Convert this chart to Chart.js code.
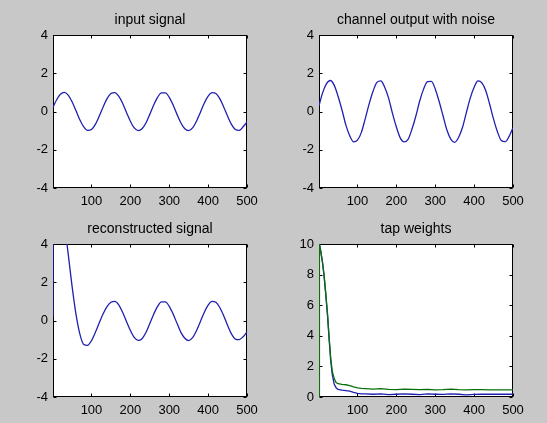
<!DOCTYPE html>
<html>
<head>
<meta charset="utf-8">
<script src="https://cdn.jsdelivr.net/npm/chart.js@4"></script>
<style>
    html, body { margin: 0; padding: 0; }
    body { width: 547px; height: 423px; background: #c8c8c8; position: relative; overflow: hidden; }
    canvas { position: absolute; }
</style>
</head>
<body>
<canvas id="inputChart"></canvas>
<canvas id="channelChart"></canvas>
<canvas id="reconChart"></canvas>
<canvas id="tapChart"></canvas>
<script>
// Sample positions (every 10 samples)
const sampleX = [1, 10, 20, 30, 40, 50, 60, 70, 80, 90, 100, 110, 120, 130, 140, 150, 160, 170, 180, 190, 200,
    210, 220, 230, 240, 250, 260, 270, 280, 290, 300, 310, 320, 330, 340, 350, 360, 370, 380, 390, 400,
    410, 420, 430, 440, 450, 460, 470, 480, 490, 500];

const inputSignal = [0.22, 0.60, 0.90, 1.00, 0.86, 0.51, 0.05, -0.43, -0.80, -0.99, -0.94, -0.67, -0.24, 0.24, 0.67, 0.94, 0.99, 0.80, 0.43, -0.05,
    -0.51, -0.86, -1.00, -0.90, -0.60, -0.15, 0.34, 0.74, 0.97, 0.97, 0.74, 0.34, -0.15, -0.60, -0.90, -1.00, -0.86, -0.51, -0.05, 0.43, 0.80,
    0.99, 0.94, 0.67, 0.24, -0.24, -0.67, -0.94, -0.99, -0.80, -0.55];

const channelOutput = [0.30, 0.96, 1.44, 1.62, 1.38, 0.80, 0.09, -0.70, -1.27, -1.59, -1.50, -1.09, -0.37, 0.40, 1.06, 1.52, 1.60, 1.27, 0.70, -0.10,
    -0.81, -1.38, -1.59, -1.46, -0.93, -0.25, 0.55, 1.17, 1.56, 1.58, 1.18, 0.52, -0.22, -0.97, -1.44, -1.61, -1.36, -0.84, -0.06, 0.70, 1.27,
    1.60, 1.50, 1.09, 0.38, -0.40, -1.06, -1.52, -1.58, -1.30, -0.85];

// Reconstructed signal starts off scale, so it has an extra point at x = 2
const reconX = [1, 2, 10, 20, 30, 40, 50, 60, 70, 80, 90, 100, 110, 120, 130, 140, 150, 160, 170, 180, 190, 200,
    210, 220, 230, 240, 250, 260, 270, 280, 290, 300, 310, 320, 330, 340, 350, 360, 370, 380, 390, 400,
    410, 420, 430, 440, 450, 460, 470, 480, 490, 500];

const reconSignal = [0.2, 15, 10, 7.2, 5.2, 3.5, 1.8, 0.35, -0.7, -1.25, -1.3, -1.05, -0.62, -0.12, 0.35, 0.72, 0.95, 1.0, 0.82, 0.43, -0.05, -0.52,
    -0.88, -1.04, -0.95, -0.63, -0.16, 0.33, 0.74, 0.97, 0.97, 0.74, 0.34, -0.15, -0.62, -0.93, -1.05, -0.9, -0.54, -0.06, 0.42, 0.8,
    1.0, 0.95, 0.68, 0.25, -0.25, -0.7, -0.97, -1.0, -0.85, -0.6];

// Tap weights (denser at the start where they fall fast)
const tapX = [1, 2, 5, 10, 14, 18, 23, 27, 31, 35, 40, 45, 50, 60, 70, 80, 90, 100, 110, 120, 140, 160, 180, 200,
    220, 240, 260, 280, 300, 320, 340, 360, 380, 400, 420, 440, 460, 480, 500];
const tapWeight1 = [0, 10, 9.6, 8.8, 7.9, 6.8, 5.3, 3.8, 2.4, 1.5, 0.85, 0.6, 0.5, 0.45, 0.42, 0.38, 0.3, 0.24, 0.2, 0.2, 0.18, 0.2, 0.15, 0.18,
    0.2, 0.18, 0.15, 0.2, 0.18, 0.17, 0.2, 0.18, 0.14, 0.17, 0.18, 0.18, 0.18, 0.18, 0.18];
const tapWeight2 = [0, 10, 9.6, 8.8, 8.0, 6.9, 5.4, 3.9, 2.6, 1.7, 1.2, 0.95, 0.87, 0.82, 0.8, 0.74, 0.66, 0.6, 0.56, 0.55, 0.52, 0.55, 0.5, 0.48,
    0.52, 0.5, 0.48, 0.5, 0.47, 0.48, 0.52, 0.48, 0.47, 0.48, 0.48, 0.47, 0.47, 0.47, 0.47];

const xTicks = [100, 200, 300, 400, 500];
const signalTicks = [-4, -2, 0, 2, 4];
const tapTicks = [0, 2, 4, 6, 8, 10];

const BLUE = '#1f1fb0';
const GREEN = '#087008';

// Margins around each plot area inside its canvas
const PAD_LEFT = 50, PAD_RIGHT = 30, PAD_TOP = 25, PAD_BOTTOM = 25;

document.addEventListener('DOMContentLoaded', function() {
    Chart.defaults.font.family = "'Liberation Sans', Arial, sans-serif";
    Chart.defaults.color = '#000';

    renderSubplot('inputChart', { left: 53, top: 35, width: 194, height: 153 }, 'input signal',
        [makeSeries(sampleX, inputSignal, BLUE, true)], -4, 4, signalTicks);
    renderSubplot('channelChart', { left: 319, top: 35, width: 194, height: 153 }, 'channel output with noise',
        [makeSeries(sampleX, channelOutput, BLUE, true)], -4, 4, signalTicks);
    renderSubplot('reconChart', { left: 53, top: 244, width: 194, height: 153 }, 'reconstructed signal',
        [makeSeries(reconX, reconSignal, BLUE, true)], -4, 4, signalTicks);
    // green drawn on top of blue, like the second column in the original plot
    renderSubplot('tapChart', { left: 319, top: 244, width: 194, height: 153 }, 'tap weights',
        [makeSeries(tapX, tapWeight2, GREEN, false), makeSeries(tapX, tapWeight1, BLUE, false)], 0, 10, tapTicks);
});

// Build one line dataset from x / y arrays
function makeSeries(xs, ys, color, smooth) {
    return {
        data: xs.map((x, i) => ({ x: x, y: ys[i] })),
        borderColor: color,
        borderWidth: 1.3,
        pointRadius: 0,
        fill: false,
        cubicInterpolationMode: smooth ? 'monotone' : 'default',
        tension: 0
    };
}

// White plot area, black box, inward ticks on all four sides and the title
// (drawn before the lines, so the lines sit on top of the box)
const axesBoxPlugin = {
    id: 'axesBox',
    beforeDatasetsDraw(chart, args, opts) {
        const a = chart.chartArea;
        const ctx = chart.ctx;
        ctx.save();
        ctx.fillStyle = '#ffffff';
        ctx.fillRect(a.left, a.top, a.right - a.left, a.bottom - a.top);

        const L = Math.round(a.left) + 0.5, R = Math.round(a.right) - 0.5;
        const T = Math.round(a.top) + 0.5, B = Math.round(a.bottom) - 0.5;
        ctx.strokeStyle = '#000';
        ctx.lineWidth = 1;
        ctx.strokeRect(L, T, R - L, B - T);
        ctx.beginPath();
        chart.scales.x.ticks.forEach(t => {
            const px = Math.round(chart.scales.x.getPixelForValue(t.value)) + 0.5;
            ctx.moveTo(px, B); ctx.lineTo(px, B - 3);
            ctx.moveTo(px, T); ctx.lineTo(px, T + 3);
        });
        chart.scales.y.ticks.forEach(t => {
            const py = Math.round(chart.scales.y.getPixelForValue(t.value)) + 0.5;
            ctx.moveTo(L, py); ctx.lineTo(L + 3, py);
            ctx.moveTo(R, py); ctx.lineTo(R - 3, py);
        });
        ctx.stroke();

        // title centred over the plot box
        ctx.fillStyle = '#000';
        ctx.font = "14px 'Liberation Sans', Arial, sans-serif";
        ctx.textAlign = 'center';
        ctx.textBaseline = 'alphabetic';
        ctx.fillText(opts.title, (a.left + a.right) / 2, a.top - 11);
        ctx.restore();
    }
};

// Function to render one subplot
function renderSubplot(id, area, title, datasets, yMin, yMax, yTicks) {
    const canvas = document.getElementById(id);
    canvas.width = area.width + PAD_LEFT + PAD_RIGHT;
    canvas.height = area.height + PAD_TOP + PAD_BOTTOM;
    canvas.style.left = (area.left - PAD_LEFT) + 'px';
    canvas.style.top = (area.top - PAD_TOP) + 'px';

    new Chart(canvas.getContext('2d'), {
        type: 'line',
        data: { datasets: datasets },
        plugins: [axesBoxPlugin],
        options: {
            responsive: false,
            animation: false,
            devicePixelRatio: 1,
            layout: { padding: { left: 0, right: PAD_RIGHT, top: PAD_TOP, bottom: 0 } },
            scales: {
                x: {
                    type: 'linear',
                    min: 1,
                    max: 500,
                    afterBuildTicks: s => { s.ticks = xTicks.map(v => ({ value: v })); },
                    afterFit: s => { s.height = PAD_BOTTOM; },
                    grid: { display: false, drawTicks: false },
                    border: { display: false },
                    ticks: { autoSkip: false, maxRotation: 0, padding: 6, font: { size: 13 } }
                },
                y: {
                    type: 'linear',
                    min: yMin,
                    max: yMax,
                    afterBuildTicks: s => { s.ticks = yTicks.map(v => ({ value: v })); },
                    afterFit: s => { s.width = PAD_LEFT; },
                    grid: { display: false, drawTicks: false },
                    border: { display: false },
                    ticks: { padding: 5, font: { size: 13 } }
                }
            },
            plugins: {
                legend: { display: false },
                tooltip: { enabled: false },
                title: { display: false },
                axesBox: { title: title }
            }
        }
    });
}
</script>
</body>
</html>
